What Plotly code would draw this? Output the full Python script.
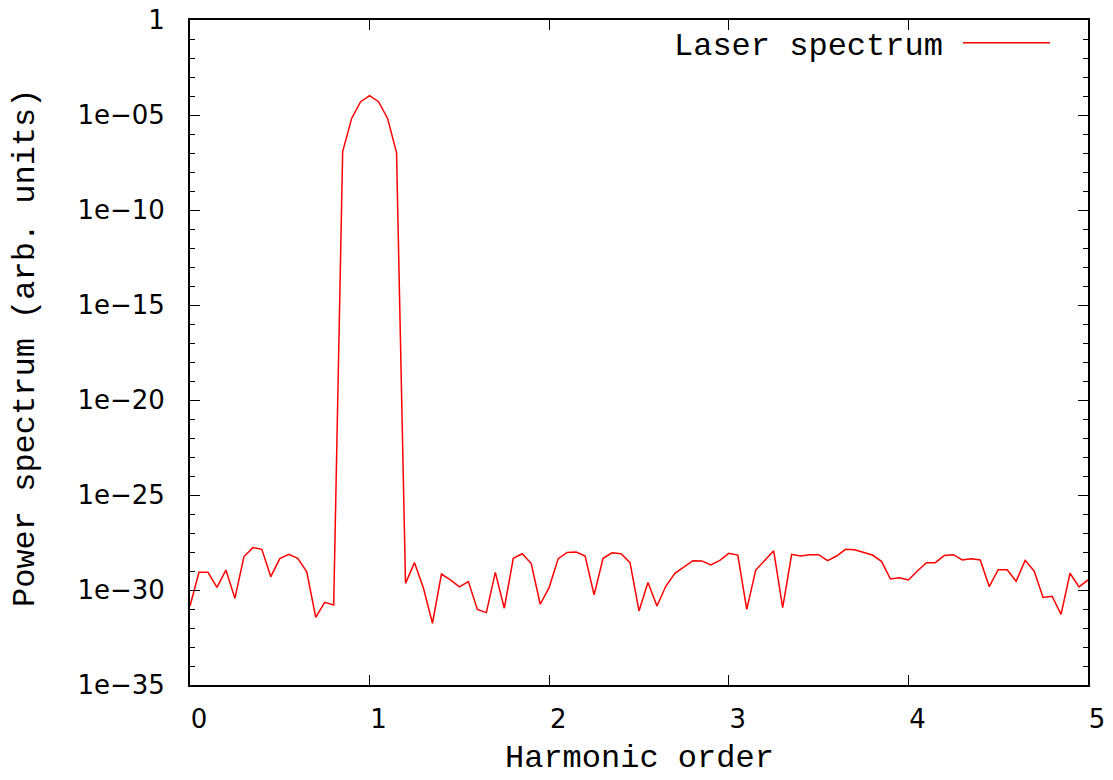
import plotly.graph_objects as go

# Harmonic order grid (sampling points)
harmonic_order = [
    0.00, 0.05, 0.10, 0.15, 0.20, 0.25, 0.30, 0.35, 0.40, 0.45,
    0.50, 0.55, 0.60, 0.65, 0.70, 0.75, 0.80, 0.85, 0.90, 0.95,
    1.00, 1.05, 1.10, 1.15, 1.20, 1.25, 1.30, 1.35, 1.40, 1.45,
    1.50, 1.55, 1.60, 1.65, 1.70, 1.75, 1.80, 1.85, 1.90, 1.95,
    2.00, 2.05, 2.10, 2.15, 2.20, 2.25, 2.30, 2.35, 2.40, 2.45,
    2.50, 2.55, 2.60, 2.65, 2.70, 2.75, 2.80, 2.85, 2.90, 2.95,
    3.00, 3.05, 3.10, 3.15, 3.20, 3.25, 3.30, 3.35, 3.40, 3.45,
    3.50, 3.55, 3.60, 3.65, 3.70, 3.75, 3.80, 3.85, 3.90, 3.95,
    4.00, 4.05, 4.10, 4.15, 4.20, 4.25, 4.30, 4.35, 4.40, 4.45,
    4.50, 4.55, 4.60, 4.65, 4.70, 4.75, 4.80, 4.85, 4.90, 4.95,
    5.00,
]

# log10 of the power spectrum (arb. units)
log10_power = [
    -30.84, -29.07, -29.07, -29.86, -28.95, -30.44, -28.25, -27.77, -27.86, -29.30,
    -28.35, -28.12, -28.33, -29.04, -31.44, -30.65, -30.79, -6.93, -5.18, -4.30,
    -3.98, -4.30, -5.18, -6.98, -29.65, -28.56, -29.91, -31.75, -29.16, -29.47,
    -29.84, -29.56, -31.02, -31.19, -29.07, -30.96, -28.33, -28.09, -28.61, -30.75,
    -29.86, -28.35, -28.02, -28.00, -28.21, -30.26, -28.33, -28.04, -28.09, -28.56,
    -31.10, -29.61, -30.84, -29.79, -29.12, -28.77, -28.46, -28.47, -28.68, -28.44,
    -28.07, -28.16, -31.02, -28.95, -28.46, -27.94, -30.93, -28.12, -28.21, -28.14,
    -28.14, -28.46, -28.21, -27.86, -27.88, -28.02, -28.16, -28.49, -29.42, -29.35,
    -29.47, -29.00, -28.56, -28.56, -28.18, -28.14, -28.42, -28.35, -28.42, -29.82,
    -28.93, -28.93, -29.54, -28.44, -29.00, -30.39, -30.33, -31.28, -29.12, -29.84,
    -29.47,
]
power = [10 ** v for v in log10_power]

y_tick_exps = [0, -5, -10, -15, -20, -25, -30, -35]
y_tick_labels = ["1", "1e\u221205", "1e\u221210", "1e\u221215", "1e\u221220",
                 "1e\u221225", "1e\u221230", "1e\u221235"]
x_tick_vals = [0, 1, 2, 3, 4, 5]
x_tick_labels = ["0", "1", "2", "3", "4", "5"]
series_name = "Laser spectrum"

W, H = 1113, 780
L, R, T, B = 190, 25, 20, 95
PW, PH = W - L - R, H - T - B


def px(xp):
    return (xp - L) / PW


def py(yp):
    return 1 - (yp - T) / PH


RED = "#ff0000"
mono = "Courier New, Courier, Nimbus Mono PS, FreeMono, Liberation Mono, monospace"
sans = "DejaVu Sans"

fig = go.Figure()
fig.add_trace(go.Scatter(
    x=harmonic_order, y=power, mode="lines", name=series_name,
    line=dict(color=RED, width=1.5), showlegend=False,
))

fig.update_layout(
    width=W, height=H,
    margin=dict(l=L, r=R, t=T, b=B, autoexpand=False),
    paper_bgcolor="white", plot_bgcolor="white",
    showlegend=False,
    xaxis=dict(
        range=[0, 5], tickvals=x_tick_vals, ticktext=x_tick_labels,
        ticks="inside", ticklen=10, tickwidth=1.2, tickcolor="black",
        showline=True, linecolor="black", linewidth=2, mirror="ticks",
        showgrid=False, zeroline=False,
        tickfont=dict(family=sans, size=26, color="black"),
        ticklabelstandoff=10, ticklabelshift=9,
    ),
    yaxis=dict(
        type="log", range=[-35, 0],
        tickvals=[10 ** e for e in y_tick_exps], ticktext=y_tick_labels,
        ticks="inside", ticklen=10, tickwidth=1.2, tickcolor="black",
        showline=True, linecolor="black", linewidth=2, mirror="ticks",
        showgrid=False, zeroline=False,
        tickfont=dict(family=sans, size=26, color="black"),
        ticklabelstandoff=18,
        minor=dict(tickvals=[10 ** (-k) for k in range(36)], ticks="inside",
                   ticklen=5, tickwidth=1.2, tickcolor="black", showgrid=False),
    ),
    annotations=[
        dict(text="Harmonic order", xref="paper", yref="paper",
             x=0.5, y=py(779), xanchor="center", yanchor="bottom",
             showarrow=False, font=dict(family=mono, size=32, color="black")),
        dict(text="Power spectrum (arb. units)", xref="paper", yref="paper",
             x=px(25), y=py(348), xanchor="center", yanchor="middle",
             textangle=-90, showarrow=False,
             font=dict(family=mono, size=32, color="black")),
        dict(text=series_name, xref="paper", yref="paper",
             x=px(945), y=py(46), xanchor="right", yanchor="middle",
             showarrow=False, font=dict(family=mono, size=32, color="black")),
    ],
    shapes=[
        dict(type="line", xref="paper", yref="paper",
             x0=px(963), x1=px(1050), y0=py(42.7), y1=py(42.7),
             line=dict(color=RED, width=1.5)),
    ],
)

fig.write_html("out.html")
